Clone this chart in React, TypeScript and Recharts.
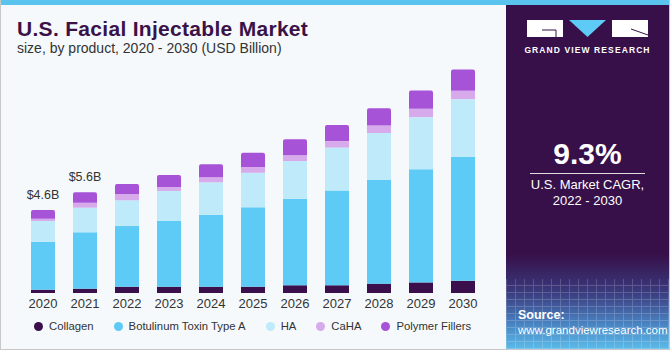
import React from "react";
import { BarChart, Bar, XAxis, YAxis, LabelList } from "recharts";

const YEARS = ["2020", "2021", "2022", "2023", "2024", "2025", "2026", "2027", "2028", "2029", "2030"];
const COLLAGEN = [0.18, 0.24, 0.35, 0.35, 0.35, 0.35, 0.43, 0.43, 0.52, 0.59, 0.68];
const BOTOX = [2.67, 3.13, 3.37, 3.65, 4.0, 4.41, 4.81, 5.26, 5.76, 6.29, 6.87];
const HA = [1.15, 1.37, 1.43, 1.67, 1.8, 1.92, 2.09, 2.39, 2.61, 2.89, 3.22];
const CAHA = [0.13, 0.28, 0.35, 0.22, 0.28, 0.32, 0.32, 0.36, 0.41, 0.46, 0.46];
const POLYMER = [0.48, 0.58, 0.56, 0.67, 0.72, 0.79, 0.89, 0.89, 0.97, 1.02, 1.19];
const TOTAL_LABELS = ["$4.6B", "$5.6B", "", "", "", "", "", "", "", "", ""];

const SERIES = [
  { key: "collagen", name: "Collagen", color: "#3b0f4b" },
  { key: "botox", name: "Botulinum Toxin Type A", color: "#5ecbf6" },
  { key: "ha", name: "HA", color: "#bfeafa" },
  { key: "caha", name: "CaHA", color: "#d7aaeb" },
  { key: "polymer", name: "Polymer Fillers", color: "#a653d8" },
];

const data = YEARS.map((year, i) => ({
  year,
  collagen: COLLAGEN[i],
  botox: BOTOX[i],
  ha: HA[i],
  caha: CAHA[i],
  polymer: POLYMER[i],
  label: TOTAL_LABELS[i],
}));

const FONT = '"Liberation Sans", Arial, sans-serif';

function TotalLabel(props: any) {
  const { x, y, width, index } = props;
  const text = TOTAL_LABELS[index];
  if (!text) return null;
  return (
    <text x={x + width / 2} y={y - 11} textAnchor="middle" fontSize={12.5} fill="#333" fontFamily={FONT}>
      {text}
    </text>
  );
}

function SidePanel() {
  return (
    <div style={{ position: "absolute", left: 506, top: 0, width: 163, height: 349, background: "#371049", overflow: "hidden", color: "#fff" }}>
      <div style={{ position: "absolute", left: 0, right: 0, bottom: 0, height: 95, background: "linear-gradient(to bottom, #371049 0%, #3a3a7e 40%, #4a86c4 75%, #5bbbe9 100%)" }} />
      <div style={{ position: "absolute", left: 0, right: 0, bottom: 0, height: 70, opacity: 0.18, background: "repeating-linear-gradient(90deg, #fff 0 1px, transparent 1px 9px), repeating-linear-gradient(0deg, #fff 0 1px, transparent 1px 7px)" }} />
      <div style={{ position: "absolute", left: 0, right: 0, top: 0, height: 5, background: "#5ac4ee" }} />
      <svg width={163} height={60} style={{ position: "absolute", left: 0, top: 0 }}>
        <rect x={21} y={20} width={36} height={17} fill="#fff" />
        <path d="M36 30 L50 30 L50 37" stroke="#371049" strokeWidth={1} fill="none" />
        <polygon points="63,20 100,20 81.5,37" fill="#5ecbf6" />
        <rect x={106} y={20} width={36} height={17} fill="#fff" />
        <path d="M125 29 L142 35" stroke="#371049" strokeWidth={1} />
      </svg>
      <div style={{ position: "absolute", left: 0, width: 163, top: 45, textAlign: "center", fontFamily: FONT, fontWeight: 700, fontSize: 8.5, letterSpacing: 1.1 }}>GRAND VIEW RESEARCH</div>
      <div style={{ position: "absolute", left: 0, width: 163, top: 137, textAlign: "center", fontFamily: FONT, fontWeight: 700, fontSize: 30 }}>9.3%</div>
      <div style={{ position: "absolute", left: 24, width: 115, top: 173, height: 1, background: "#ddd" }} />
      <div style={{ position: "absolute", left: 0, width: 163, top: 177, textAlign: "center", fontFamily: FONT, fontSize: 13, lineHeight: "16px" }}>
        U.S. Market CAGR,<br />2022 - 2030
      </div>
      <div style={{ position: "absolute", left: 12, top: 308, fontFamily: FONT, fontSize: 11.5, lineHeight: "15px", whiteSpace: "nowrap" }}>
        <div style={{ fontWeight: 700, fontSize: 12.5 }}>Source:</div>
        <div>www.grandviewresearch.com</div>
      </div>
    </div>
  );
}

export default function App() {
  return (
    <div style={{ position: "absolute", left: 0, top: 0, width: 670, height: 350, background: "#f5f9fc", fontFamily: FONT, overflow: "hidden" }}>
      <div style={{ position: "absolute", left: 0, top: 0, width: 670, height: 5, background: "#5ac4ee" }} />
      <div style={{ position: "absolute", left: 0, top: 0, width: 670, height: 350, borderLeft: "1px solid #c8c8c8", borderRight: "1px solid #c8c8c8", borderBottom: "1px solid #c8c8c8", boxSizing: "border-box" }} />
      <div style={{ position: "absolute", left: 17, top: 17, fontWeight: 700, fontSize: 21, letterSpacing: 0.3, color: "#3a1248", whiteSpace: "nowrap" }}>U.S. Facial Injectable Market</div>
      <div style={{ position: "absolute", left: 17, top: 40, fontSize: 14, color: "#333", whiteSpace: "nowrap" }}>size, by product, 2020 - 2030 (USD Billion)</div>
      <div style={{ position: "absolute", left: 0, top: 0 }}>
        <BarChart width={506} height={350} data={data} margin={{ top: 59, right: 22, left: 22, bottom: 37 }} barSize={24}>
          <XAxis dataKey="year" height={20} axisLine={false} tickLine={false} tickSize={4} tick={{ fontSize: 13, fill: "#333", fontFamily: FONT }} interval={0} />
          <YAxis hide domain={[0, 13]} />
          {SERIES.map((s, i) => (
            <Bar key={s.key} dataKey={s.key} name={s.name} stackId="a" fill={s.color} isAnimationActive={false}
              radius={i === SERIES.length - 1 ? [2, 2, 0, 0] : 0}>
              {i === SERIES.length - 1 && <LabelList dataKey="label" content={<TotalLabel />} />}
            </Bar>
          ))}
        </BarChart>
      </div>
      <div style={{ position: "absolute", left: 34, top: 320, display: "flex", alignItems: "center", gap: 20, fontSize: 11.3, color: "#333", whiteSpace: "nowrap" }}>
        {SERIES.map(s => (
          <div key={s.key} style={{ display: "flex", alignItems: "center" }}>
            <span style={{ width: 9, height: 9, borderRadius: "50%", background: s.color, marginRight: 6, display: "inline-block" }} />
            <span>{s.name}</span>
          </div>
        ))}
      </div>
      <SidePanel />
    </div>
  );
}
